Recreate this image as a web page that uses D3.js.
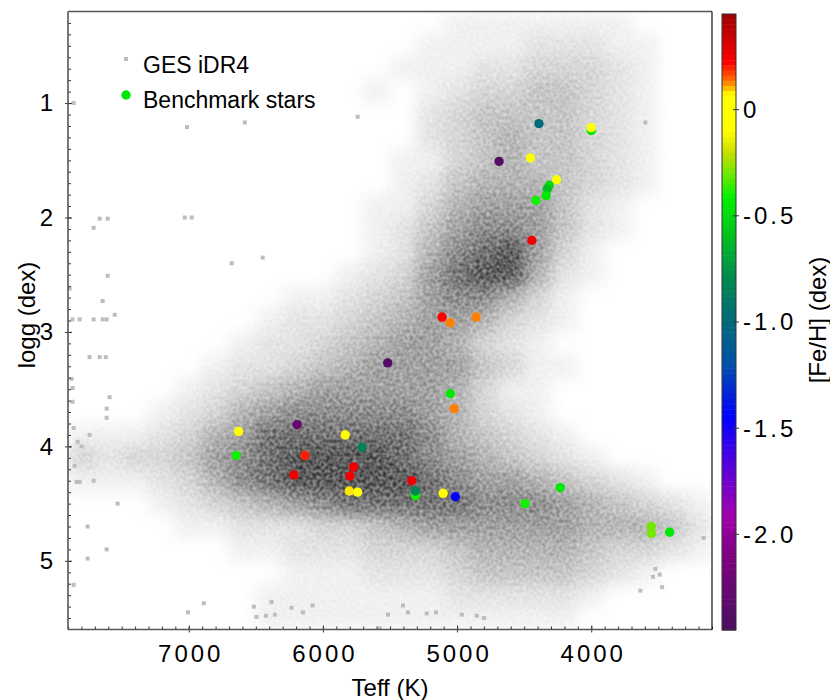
<!DOCTYPE html>
<head>
  <meta charset="utf-8">
  <script src="https://d3js.org/d3.v7.min.js"></script>
  <style>
    body { margin:0; background:#fff; }
    text { font-family: "Liberation Sans", Arial, sans-serif; fill:#000; }
  </style>
</head>

<body>
  <script>

  var width = 830;
  var height = 700;

  // axis ticks
  var teffTicks = [7000, 6000, 5000, 4000];
  var loggTicks = [1, 2, 3, 4, 5];
  var fehTicks = [0, -0.5, -1.0, -1.5, -2.0];
  var fehTickLabels = ["0", "-0.5", "-1.0", "-1.5", "-2.0"];

  // GES iDR4 cloud, density level 0-9
  // columns: Teff 7900 -> 3100 in steps of 200 K, rows: logg 0.2 -> 5.6 in steps of 0.2
  var gridTeffStart = 7900, gridTeffStep = 200;
  var gridLoggStart = 0.2, gridLoggStep = 0.2;
  var densityRows = [
    "000000000000001111111000",
    "000000000000011112221100",
    "000000000000111223332100",
    "000000000001012334432100",
    "000000000000023444432100",
    "000000000000023454432100",
    "000000000000113454432100",
    "000000000000124555432100",
    "000000000001135666421000",
    "000000000001246776421000",
    "000000000001257896310000",
    "000000000012368995210000",
    "000000001123467753100000",
    "000000012234566532100000",
    "000000122345665321000000",
    "000001223456666431100000",
    "000012345666665311000000",
    "000123567777765321000000",
    "111235688888875432100000",
    "323346789999876543210000",
    "111235789999987665432100",
    "000123456788888777654321",
    "000011222334566666655542",
    "000000112223334555543321",
    "000000001112223444432100",
    "000000011111112222210000",
    "000000011111111111100000"
  ];

  // isolated GES stars away from the main cloud
  var outTeff = [7858, 7664, 7604, 7709, 7604, 7888, 7642, 7866, 7813, 7709, 7642, 7612, 7552,
    7873, 7739, 7664, 7619, 7866, 7866, 7590, 7612, 7612, 7858, 7828, 7799, 7739, 7851, 7836,
    7813, 7709, 7530, 7754, 7754, 7612, 7858, 7005, 6888, 6515, 6495, 6425, 6383, 6358, 6234,
    6149, 6077, 5403, 5366, 5515, 5226, 5157, 4965, 4853, 4799, 5575, 3597, 3162, 3522, 3490,
    3540, 3472, 3634, 7013, 6582, 5741, 7030, 6978, 6680, 6449];
  var outLogg = [1.00, 2.01, 2.01, 2.09, 2.51, 2.62, 2.73, 2.89, 2.89, 2.89, 2.89, 2.89, 2.85,
    3.41, 3.22, 3.22, 3.22, 3.49, 3.61, 3.57, 3.67, 3.75, 3.84, 3.96, 4.00, 3.90, 4.17, 4.31,
    4.31, 4.30, 4.50, 4.70, 4.98, 4.90, 5.21, 5.45, 5.37, 5.40, 5.49, 5.48, 5.36, 5.47, 5.41,
    5.45, 5.39, 5.39, 5.45, 5.47, 5.46, 5.45, 5.47, 5.48, 5.50, 5.59, 1.17, 4.80, 5.07, 5.12,
    5.14, 5.23, 5.26, 1.21, 1.17, 1.12, 2.00, 2.00, 2.40, 2.35];

  // benchmark stars
  var benchTeff = [4390, 4000, 4000, 4687, 4453, 4259, 4313, 4328, 4336, 4413, 4443, 5112, 5052,
    4858, 5517, 5050, 5022, 6192, 6629, 5834, 5709, 6647, 6134, 5771, 6216, 5799, 5338, 5804,
    5741, 5311, 5311, 5104, 5013, 4493, 4231, 3552, 3552, 3416];
  var benchLogg = [1.18, 1.24, 1.215, 1.51, 1.48, 1.67, 1.72, 1.75, 1.81, 1.85, 2.20, 2.87, 2.92,
    2.87, 3.27, 3.54, 3.67, 3.81, 3.87, 3.90, 4.01, 4.08, 4.08, 4.18, 4.25, 4.26, 4.30, 4.39,
    4.40, 4.43, 4.39, 4.41, 4.44, 4.50, 4.36, 4.70, 4.76, 4.75];
  var benchFeh = [-1.0, -0.45, 0.0, -2.4, -0.02, -0.02, -0.5, -0.6, -0.45, -0.4, 0.25, 0.22, 0.13,
    0.13, -2.4, -0.45, 0.13, -2.25, 0.0, 0.0, -0.85, -0.4, 0.2, 0.25, 0.25, 0.25, 0.25, 0.08,
    0.0, -0.4, -0.8, 0.0, -1.45, -0.4, -0.45, -0.3, -0.3, -0.45];

  // colour table of the [Fe/H] bar
  var fehStops = [0.45, 0.3, 0.22, 0.16, 0.12, 0.07, -0.1, -0.2, -0.3, -0.42, -0.6, -0.8, -1.0,
    -1.2, -1.45, -1.6, -1.75, -1.9, -2.1, -2.45];
  var fehColors = ["#a00000", "#dd0000", "#ff0000", "#ff5000", "#ff9000", "#ffff00", "#ffff00",
    "#c8e000", "#70e800", "#00f000", "#00c020", "#008850", "#006a78", "#0050a8", "#0000ff",
    "#3a00e8", "#7000d0", "#a000b0", "#800080", "#4a1060"];

  var plot = {left: 68, right: 712, top: 11.5, bottom: 629.5};
  var bar = {left: 722, right: 736, top: 14, bottom: 630};

  var xScale = d3.scaleLinear().domain([7900, 3100]).range([plot.left, plot.right]);
  var yScale = d3.scaleLinear().domain([0.2, 5.6]).range([plot.top, plot.bottom]);
  var fehScale = d3.scaleLinear().domain([0.45, -2.45]).range([bar.top, bar.bottom]);
  var colorScale = d3.scaleLinear().domain(fehStops).range(fehColors).clamp(true);
  // density level -> opacity of black
  var shade = d3.scaleLinear()
    .domain([0, 1, 3, 5, 7, 9])
    .range([0, 0.07, 0.2, 0.36, 0.55, 0.8]);

  var svg = d3.select("body").append("svg")
    .attr("width", width)
    .attr("height", height);

  var defs = svg.append("defs");
  defs.append("clipPath").attr("id", "plotClip")
    .append("rect")
    .attr("x", plot.left).attr("y", plot.top)
    .attr("width", plot.right - plot.left).attr("height", plot.bottom - plot.top);

  // soft density with a light grain
  var grain = defs.append("filter").attr("id", "grain")
    .attr("filterUnits", "userSpaceOnUse")
    .attr("x", plot.left).attr("y", plot.top)
    .attr("width", plot.right - plot.left).attr("height", plot.bottom - plot.top)
    .attr("color-interpolation-filters", "sRGB");
  grain.append("feGaussianBlur")
    .attr("in", "SourceGraphic").attr("stdDeviation", 8).attr("result", "dens");
  grain.append("feTurbulence")
    .attr("type", "fractalNoise").attr("baseFrequency", 0.3)
    .attr("numOctaves", 1).attr("seed", 7).attr("result", "noise");
  grain.append("feColorMatrix")
    .attr("in", "noise").attr("type", "matrix")
    .attr("values", "0 0 0 0 0  0 0 0 0 0  0 0 0 0 0  1 0 0 0 0")
    .attr("result", "nalpha");
  grain.append("feComposite")
    .attr("in", "dens").attr("in2", "nalpha")
    .attr("operator", "arithmetic")
    .attr("k1", -0.9).attr("k2", 1.25).attr("k3", 0).attr("k4", 0);

  // density cells
  var cells = [];
  densityRows.forEach(function(row, j) {
    for (var i = 0; i < row.length; i++) {
      var level = +row[i];
      if (level > 0) {
        cells.push({
          t0: gridTeffStart - i * gridTeffStep,
          g0: gridLoggStart + j * gridLoggStep,
          level: level
        });
      }
    }
  });

  var cloud = svg.append("g").attr("clip-path", "url(#plotClip)")
    .append("g").attr("filter", "url(#grain)");
  cloud.selectAll("rect")
    .data(cells)
    .enter()
    .append("rect")
    .attr("x", function(d) { return xScale(d.t0); })
    .attr("y", function(d) { return yScale(d.g0); })
    .attr("width", function(d) { return xScale(d.t0 - gridTeffStep) - xScale(d.t0); })
    .attr("height", function(d) { return yScale(d.g0 + gridLoggStep) - yScale(d.g0); })
    .attr("fill", "#000")
    .attr("shape-rendering", "crispEdges")
    .attr("fill-opacity", function(d) { return shade(d.level); });

  // isolated points
  svg.append("g").attr("clip-path", "url(#plotClip)")
    .selectAll("rect")
    .data(outTeff.map(function(t, i) { return [t, outLogg[i]]; }))
    .enter()
    .append("rect")
    .attr("x", function(d) { return xScale(d[0]) - 2; })
    .attr("y", function(d) { return yScale(d[1]) - 2; })
    .attr("width", 4)
    .attr("height", 4)
    .attr("fill", "#bdbdbd");

  // benchmark stars
  var bench = benchTeff.map(function(t, i) {
    return {teff: t, logg: benchLogg[i], feh: benchFeh[i]};
  });
  svg.append("g")
    .selectAll("circle")
    .data(bench)
    .enter()
    .append("circle")
    .attr("cx", function(d) { return xScale(d.teff); })
    .attr("cy", function(d) { return yScale(d.logg); })
    .attr("r", 4.7)
    .attr("fill", function(d) { return colorScale(d.feh); });

  // axes
  var minorTeff = d3.range(7900, 3099, -100);
  var minorLogg = d3.range(3, 56).map(function(v) { return v / 10; });

  svg.append("g")
    .attr("transform", "translate(0," + plot.bottom + ")")
    .call(d3.axisBottom(xScale).tickValues(minorTeff).tickSize(-3).tickFormat(""))
    .call(function(g) { g.select(".domain").remove(); g.selectAll("line").attr("stroke", "#333"); });

  svg.append("g")
    .attr("transform", "translate(" + plot.left + ",0)")
    .call(d3.axisLeft(yScale).tickValues(minorLogg).tickSize(-3).tickFormat(""))
    .call(function(g) { g.select(".domain").remove(); g.selectAll("line").attr("stroke", "#333"); });

  var xMajor = svg.append("g")
    .attr("transform", "translate(0," + plot.bottom + ")")
    .call(d3.axisBottom(xScale).tickValues(teffTicks).tickFormat(d3.format("d"))
      .tickSizeInner(3).tickSizeOuter(0).tickPadding(12));
  xMajor.select(".domain").remove();
  xMajor.selectAll("line").attr("stroke", "#333").attr("y1", -4);
  xMajor.selectAll("text")
    .attr("font-size", 24)
    .attr("letter-spacing", 3)
    .attr("dx", 1.5)
    .attr("font-family", "Liberation Sans, Arial, sans-serif");

  var yMajor = svg.append("g")
    .attr("transform", "translate(" + plot.left + ",0)")
    .call(d3.axisLeft(yScale).tickValues(loggTicks).tickFormat(d3.format("d"))
      .tickSizeInner(3).tickSizeOuter(0).tickPadding(9));
  yMajor.select(".domain").remove();
  yMajor.selectAll("line").attr("stroke", "#333").attr("x1", 4);
  yMajor.selectAll("text")
    .attr("font-size", 24)
    .attr("letter-spacing", 3)
    .attr("font-family", "Liberation Sans, Arial, sans-serif");

  // frame
  svg.append("line")
    .attr("x1", plot.left).attr("x2", plot.left)
    .attr("y1", plot.top).attr("y2", plot.bottom)
    .attr("stroke", "#555").attr("stroke-width", 1.6);
  svg.append("line")
    .attr("x1", plot.left).attr("x2", plot.right)
    .attr("y1", plot.bottom).attr("y2", plot.bottom)
    .attr("stroke", "#555").attr("stroke-width", 1.6);
  svg.append("line")
    .attr("x1", plot.left).attr("x2", plot.right)
    .attr("y1", plot.top).attr("y2", plot.top)
    .attr("stroke", "#555").attr("stroke-width", 1.4);
  svg.append("line")
    .attr("x1", plot.right).attr("x2", plot.right)
    .attr("y1", plot.top).attr("y2", plot.bottom)
    .attr("stroke", "#111").attr("stroke-width", 1.2);

  // axis titles
  svg.append("text")
    .attr("x", (plot.left + plot.right) / 2)
    .attr("y", 696)
    .attr("text-anchor", "middle")
    .attr("font-size", 24)
    .text("Teff (K)");

  svg.append("text")
    .attr("transform", "translate(35,315) rotate(-90)")
    .attr("text-anchor", "middle")
    .attr("font-size", 24)
    .text("logg (dex)");

  // legend
  svg.append("rect")
    .attr("x", 124).attr("y", 57).attr("width", 4).attr("height", 4)
    .attr("fill", "#bdbdbd");
  svg.append("text")
    .attr("x", 143).attr("y", 73)
    .attr("font-size", 23)
    .text("GES iDR4");
  svg.append("circle")
    .attr("cx", 126).attr("cy", 95).attr("r", 4.7)
    .attr("fill", colorScale(-0.45));
  svg.append("text")
    .attr("x", 143).attr("y", 108)
    .attr("font-size", 23)
    .text("Benchmark stars");

  // colour bar
  var nBands = 120;
  var bandEdges = d3.range(nBands + 1).map(function(k) {
    return 0.45 - k * (0.45 + 2.45) / nBands;
  });
  svg.append("g")
    .selectAll("rect")
    .data(d3.range(nBands))
    .enter()
    .append("rect")
    .attr("x", bar.left)
    .attr("y", function(k) { return fehScale(bandEdges[k]); })
    .attr("width", bar.right - bar.left)
    .attr("height", function(k) { return fehScale(bandEdges[k + 1]) - fehScale(bandEdges[k]) + 0.5; })
    .attr("fill", function(k) { return colorScale((bandEdges[k] + bandEdges[k + 1]) / 2); });
  svg.append("rect")
    .attr("x", bar.left).attr("y", bar.top)
    .attr("width", bar.right - bar.left).attr("height", bar.bottom - bar.top)
    .attr("fill", "none").attr("stroke", "#333").attr("stroke-width", 1);

  var barAxis = svg.append("g");
  barAxis.selectAll("line")
    .data(fehTicks)
    .enter()
    .append("line")
    .attr("x1", bar.right - 3).attr("x2", bar.right + 3)
    .attr("y1", function(d) { return fehScale(d); })
    .attr("y2", function(d) { return fehScale(d); })
    .attr("stroke", "#333");
  barAxis.selectAll("text")
    .data(fehTicks)
    .enter()
    .append("text")
    .attr("x", 743)
    .attr("y", function(d) { return fehScale(d); })
    .attr("dy", "0.35em")
    .attr("font-size", 24)
    .attr("letter-spacing", 3)
    .text(function(d, i) { return fehTickLabels[i]; });

  svg.append("text")
    .attr("transform", "translate(826,320) rotate(-90)")
    .attr("text-anchor", "middle")
    .attr("font-size", 24)
    .text("[Fe/H] (dex)");

  </script>
</body>
